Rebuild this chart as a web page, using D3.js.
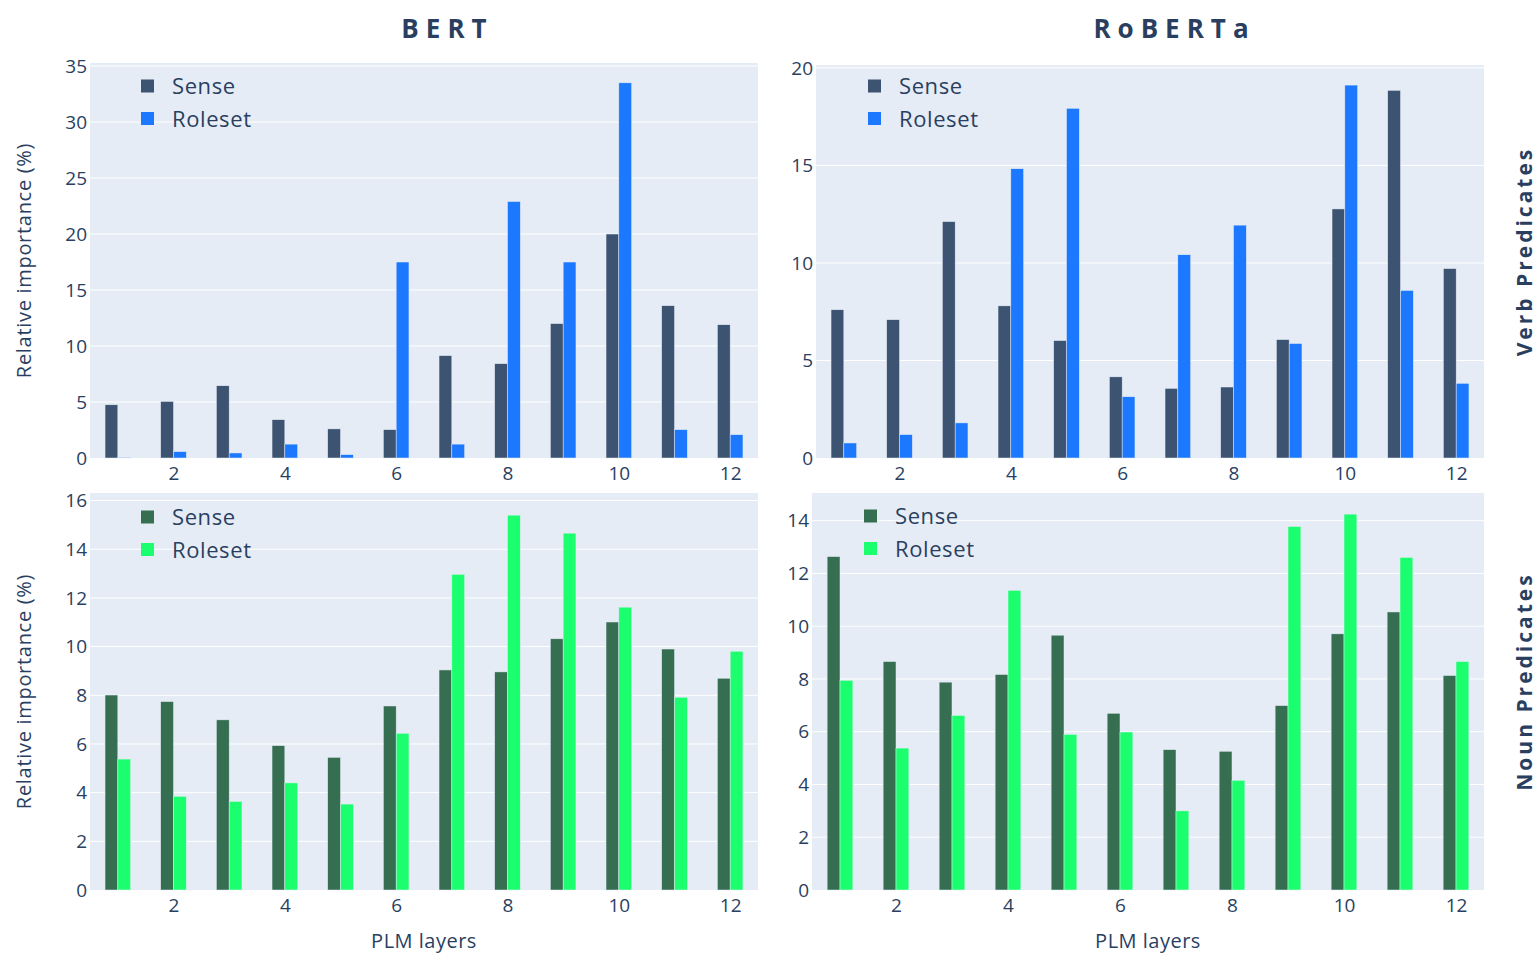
<!DOCTYPE html>
<html>
<head>
<meta charset="utf-8">
<script src="https://cdn.jsdelivr.net/npm/d3@7"></script>
<style>
  body { margin: 0; background: #ffffff; }
  svg { display: block; }
  text { font-family: "Open Sans", "Noto Sans", "DejaVu Sans", sans-serif; fill: #2a3f5f; }
</style>
</head>
<body>
<svg id="chart" width="1539" height="953"></svg>
<script>
// PLM layers on the x axis
const layers = [1, 2, 3, 4, 5, 6, 7, 8, 9, 10, 11, 12];
const xTickValues = [2, 4, 6, 8, 10, 12];
const seriesNames = ["Sense", "Roleset"];

// Relative importance (%) per layer
const bertVerbSense   = [4.75, 5.05, 6.45, 3.42, 2.6, 2.53, 9.14, 8.42, 12.0, 20.0, 13.6, 11.9];
const bertVerbRoleset = [0.05, 0.57, 0.45, 1.24, 0.3, 17.5, 1.24, 22.9, 17.5, 33.5, 2.53, 2.08];

const robertaVerbSense   = [7.6, 7.09, 12.12, 7.8, 6.02, 4.16, 3.57, 3.64, 6.07, 12.77, 18.85, 9.71];
const robertaVerbRoleset = [0.77, 1.2, 1.8, 14.83, 17.93, 3.14, 10.42, 11.94, 5.87, 19.12, 8.59, 3.83];

const bertNounSense   = [8.01, 7.74, 6.99, 5.93, 5.45, 7.56, 9.04, 8.96, 10.32, 11.01, 9.9, 8.7];
const bertNounRoleset = [5.38, 3.85, 3.64, 4.4, 3.53, 6.44, 12.97, 15.4, 14.66, 11.62, 7.92, 9.81];

const robertaNounSense   = [12.64, 8.66, 7.88, 8.17, 9.66, 6.7, 5.32, 5.26, 6.99, 9.71, 10.54, 8.13];
const robertaNounRoleset = [7.95, 5.38, 6.62, 11.36, 5.9, 5.99, 3.0, 4.16, 13.78, 14.25, 12.61, 8.66];

const modelTitles = ["BERT", "RoBERTa"];
const rowTitles = ["Verb Predicates", "Noun Predicates"];
const yAxisTitle = "Relative importance (%)";
const xAxisTitle = "PLM layers";

const verbColors = ["#3d5372", "#1c78fe"];
const nounColors = ["#356e50", "#1bff6f"];

const panels = [
  { sense: bertVerbSense, roleset: bertVerbRoleset, colors: verbColors,
    box: { left: 90, right: 758, top: 63, bottom: 458 }, yMax: 35.27, yStep: 5,
    legend: { x: 141, y: 86 }, yTitle: true, xTitle: false },
  { sense: robertaVerbSense, roleset: robertaVerbRoleset, colors: verbColors,
    box: { left: 816, right: 1484, top: 65, bottom: 458 }, yMax: 20.15, yStep: 5,
    legend: { x: 868, y: 86 }, yTitle: false, xTitle: false },
  { sense: bertNounSense, roleset: bertNounRoleset, colors: nounColors,
    box: { left: 90, right: 758, top: 493, bottom: 890 }, yMax: 16.31, yStep: 2,
    legend: { x: 141, y: 517 }, yTitle: true, xTitle: true },
  { sense: robertaNounSense, roleset: robertaNounRoleset, colors: nounColors,
    box: { left: 812, right: 1484, top: 493, bottom: 890 }, yMax: 15.05, yStep: 2,
    legend: { x: 864, y: 516 }, yTitle: false, xTitle: true }
];

const svg = d3.select("#chart");
const barWidth = 0.23; // in layer units, one bar of each pair

panels.forEach(p => {
  const b = p.box;
  const x = d3.scaleLinear().domain([0.5, 12.5]).range([b.left, b.right]);
  const y = d3.scaleLinear().domain([0, p.yMax]).range([b.bottom, b.top]);
  const g = svg.append("g");

  // plot background
  g.append("rect")
    .attr("x", b.left).attr("y", b.top)
    .attr("width", b.right - b.left).attr("height", b.bottom - b.top)
    .attr("fill", "#e5ecf6");

  // horizontal grid
  const yTicks = d3.range(0, p.yMax + 1e-9, p.yStep);
  g.append("g").selectAll("line").data(yTicks.filter(v => v > 0)).join("line")
    .attr("x1", b.left).attr("x2", b.right)
    .attr("y1", d => y(d)).attr("y2", d => y(d))
    .attr("stroke", "#ffffff").attr("stroke-width", 1);

  // y axis labels
  const yAxis = d3.axisLeft(y).tickValues(yTicks).tickSize(0).tickPadding(3).tickFormat(d3.format("d"));
  const ya = g.append("g").attr("transform", `translate(${b.left},0)`).call(yAxis);
  ya.select(".domain").remove();
  ya.selectAll("text").attr("font-size", 19).attr("fill", "#2a3f5f")
    .style("font-family", '"Open Sans", sans-serif');

  // x axis labels
  const xAxis = d3.axisBottom(x).tickValues(xTickValues).tickSize(0).tickPadding(9).tickFormat(d3.format("d"));
  const xa = g.append("g").attr("transform", `translate(0,${b.bottom})`).call(xAxis);
  xa.select(".domain").remove();
  xa.selectAll("text").attr("font-size", 19).attr("fill", "#2a3f5f")
    .style("font-family", '"Open Sans", sans-serif');

  // grouped bars
  const bw = x(1 + barWidth) - x(1);
  const pairs = [p.sense, p.roleset];
  pairs.forEach((vals, si) => {
    g.append("g").selectAll("rect").data(layers).join("rect")
      .attr("x", (d) => si === 0 ? x(d) - bw : x(d))
      .attr("y", (d, i) => y(vals[i]))
      .attr("width", bw)
      .attr("height", (d, i) => y(0) - y(vals[i]))
      .attr("fill", p.colors[si])
      .attr("stroke", "#e5ecf6").attr("stroke-width", 0.5);
  });

  // legend
  seriesNames.forEach((name, si) => {
    const ly = p.legend.y + si * 32.5;
    g.append("rect")
      .attr("x", p.legend.x).attr("y", ly - 6.5)
      .attr("width", 13).attr("height", 13)
      .attr("fill", p.colors[si]);
    g.append("text")
      .attr("x", p.legend.x + 31).attr("y", ly + 8)
      .attr("font-size", 22).attr("letter-spacing", 0.6)
      .text(name);
  });

  // axis titles
  if (p.yTitle) {
    const cy = (b.top + b.bottom) / 2;
    g.append("text")
      .attr("transform", `translate(31,${cy}) rotate(-90)`)
      .attr("text-anchor", "middle")
      .attr("font-size", 20).attr("letter-spacing", 0.7)
      .text(yAxisTitle);
  }
  if (p.xTitle) {
    g.append("text")
      .attr("x", (b.left + b.right) / 2).attr("y", 948)
      .attr("text-anchor", "middle")
      .attr("font-size", 20).attr("letter-spacing", 0.5)
      .text(xAxisTitle);
  }
});

// column titles
const titleCenters = [444, 1171];
modelTitles.forEach((t, i) => {
  svg.append("text")
    .attr("x", titleCenters[i] + 3.5).attr("y", 38)
    .attr("text-anchor", "middle")
    .attr("font-size", 26).attr("font-weight", "bold").attr("letter-spacing", 7)
    .text(t);
});

// row titles on the right
rowTitles.forEach((t, i) => {
  const b = panels[i * 2 + 1].box;
  const cy = (b.top + b.bottom) / 2 - 10;
  svg.append("text")
    .attr("transform", `translate(1532,${cy}) rotate(-90)`)
    .attr("text-anchor", "middle")
    .attr("font-size", 21).attr("font-weight", "bold").attr("letter-spacing", 3)
    .text(t);
});
</script>
</body>
</html>
